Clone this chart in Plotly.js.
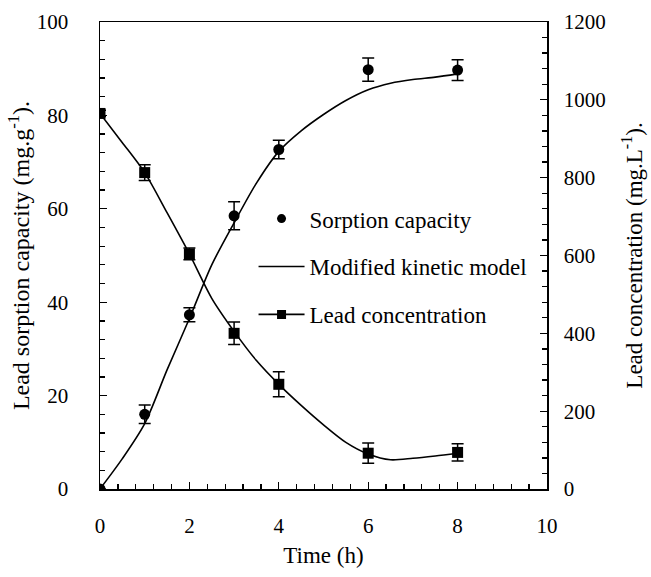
<!DOCTYPE html>
<html>
<head>
<meta charset="utf-8">
<script src="https://cdn.plot.ly/plotly-3.0.1.min.js"></script>
<style>html,body{margin:0;padding:0;background:#fff;}#chart{width:651px;height:577px;}</style>
</head>
<body>
<div id="chart"></div>
<script>
// Measured data
var timeH = [0, 1, 2, 3, 4, 6, 8];
var sorptionCapacity = [0, 16, 37.3, 58.5, 72.7, 89.8, 89.7];
var sorptionErr = [0, 2, 1.5, 3, 2, 2.5, 2.2];
var leadConcentration = [965, 813, 604, 400, 269, 92, 94];
var leadErr = [8, 20, 15, 29, 32, 26, 22];

// Model curves
var modelTime = [0, 0.5, 1, 1.5, 2, 2.5, 3, 3.5, 4, 4.5, 5, 5.5, 6, 6.5, 7, 7.5, 8];
var modelSorption = [0, 6.5, 14, 25.5, 36.5, 48, 57, 65.5, 72.3, 76.7, 80.2, 83.2, 85.5, 86.9, 87.7, 88.2, 88.9];
var modelLead = [965, 890, 813, 710, 604, 490, 405, 330, 269, 215, 165, 120, 90, 75, 79, 85, 92];

// Legend labels
var legendLabels = ['Sorption capacity', 'Modified kinetic model', 'Lead concentration'];

var FONT = 'Liberation Serif, Times New Roman, serif';
var BLANK = [null];

var traces = [
  // legend entry: sorption capacity
  {
    x: BLANK, y: BLANK, yaxis: 'y', type: 'scatter', mode: 'markers',
    name: legendLabels[0], legendgroup: 'a',
    marker: {symbol: 'circle', size: 9, color: '#000'}
  },
  // sorption model line (also legend entry)
  {
    x: modelTime, y: modelSorption, yaxis: 'y', type: 'scatter', mode: 'lines',
    name: legendLabels[1], legendgroup: 'b',
    line: {color: '#000', width: 1.6, shape: 'spline', smoothing: 0.8}
  },
  // legend entry: lead concentration
  {
    x: BLANK, y: BLANK, yaxis: 'y2', type: 'scatter', mode: 'lines+markers',
    name: legendLabels[2], legendgroup: 'c',
    line: {color: '#000', width: 1.6},
    marker: {symbol: 'square', size: 9, color: '#000'}
  },
  // lead model line
  {
    x: modelTime, y: modelLead, yaxis: 'y2', type: 'scatter', mode: 'lines',
    showlegend: false,
    line: {color: '#000', width: 1.6, shape: 'spline', smoothing: 0.8}
  },
  // sorption points
  {
    x: timeH, y: sorptionCapacity, yaxis: 'y', type: 'scatter', mode: 'markers',
    showlegend: false,
    marker: {symbol: 'circle', size: 11, color: '#000'},
    error_y: {type: 'data', array: sorptionErr, visible: true, color: '#000', thickness: 1.5, width: 6}
  },
  // lead points
  {
    x: timeH, y: leadConcentration, yaxis: 'y2', type: 'scatter', mode: 'markers',
    showlegend: false,
    marker: {symbol: 'square', size: 11, color: '#000'},
    error_y: {type: 'data', array: leadErr, visible: true, color: '#000', thickness: 1.5, width: 6}
  }
];

var layout = {
  width: 651, height: 577,
  margin: {l: 100, r: 104, t: 22, b: 88},
  paper_bgcolor: '#fff', plot_bgcolor: '#fff',
  font: {family: FONT, size: 21, color: '#000'},
  showlegend: true,
  legend: {
    x: 0.3435, y: 0.625, xanchor: 'left', yanchor: 'top',
    bgcolor: 'rgba(0,0,0,0)', font: {family: FONT, size: 23, color: '#000'},
    traceorder: 'grouped', tracegroupgap: 15, itemwidth: 46
  },
  xaxis: {
    range: [0, 10], dtick: 2, tick0: 0,
    ticks: 'inside', ticklen: 7, tickwidth: 1.3, tickcolor: '#000',
    minor: {dtick: 0.4, ticks: 'inside', ticklen: 5, tickwidth: 1.3, tickcolor: '#000'},
    showline: true, linecolor: '#000', linewidth: 1.5, mirror: true,
    showgrid: false, zeroline: false,
    ticklabelstandoff: 17,
    tickfont: {family: FONT, size: 21, color: '#000'},
    title: {text: 'Time (h)', font: {family: FONT, size: 23, color: '#000'}, standoff: 10}
  },
  yaxis: {
    range: [0, 100], dtick: 20,
    ticks: 'inside', ticklen: 7, tickwidth: 1.3, tickcolor: '#000',
    minor: {dtick: 4, ticks: 'inside', ticklen: 5, tickwidth: 1.3, tickcolor: '#000'},
    showline: true, linecolor: '#000', linewidth: 1.5,
    showgrid: false, zeroline: false,
    ticklabelstandoff: 26,
    tickfont: {family: FONT, size: 21, color: '#000'},
    title: {text: 'Lead sorption capacity (mg.g<sup>-1</sup>).', font: {family: FONT, size: 24, color: '#000'}, standoff: 0}
  },
  yaxis2: {
    overlaying: 'y', side: 'right',
    range: [0, 1200], dtick: 200,
    ticks: 'inside', ticklen: 7, tickwidth: 1.3, tickcolor: '#000',
    minor: {dtick: 40, ticks: 'inside', ticklen: 5, tickwidth: 1.3, tickcolor: '#000'},
    showline: true, linecolor: '#000', linewidth: 1.5,
    showgrid: false, zeroline: false,
    ticklabelstandoff: 11,
    tickfont: {family: FONT, size: 21, color: '#000'},
    title: {text: 'Lead concentration (mg.L<sup>-1</sup>).', font: {family: FONT, size: 23, color: '#000'}, standoff: 21}
  }
};

Plotly.newPlot('chart', traces, layout, {displayModeBar: false, staticPlot: true});
</script>
</body>
</html>
